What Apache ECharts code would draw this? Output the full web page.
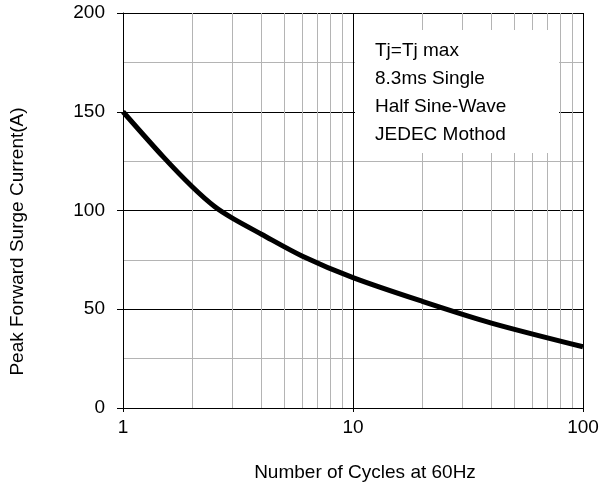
<!DOCTYPE html>
<html>
<head>
<meta charset="utf-8">
<script src="https://cdn.jsdelivr.net/npm/echarts@6/dist/echarts.min.js"></script>
<style>
html,body{margin:0;padding:0;background:#fff;}
#chart{width:611px;height:492px;}
</style>
</head>
<body>
<div id="chart"></div>
<script>
// Data
const cycles = [1, 1.5, 2, 2.5, 3, 4, 6, 10, 20, 40, 100];
const surgeCurrent = [150, 127, 112, 102, 96, 88, 77, 66, 54, 43, 31];
const minorCycles = [2, 3, 4, 5, 6, 7, 8, 9, 20, 30, 40, 50, 60, 70, 80, 90];
const noteLines = ['Tj=Tj max', '8.3ms Single', 'Half Sine-Wave', 'JEDEC Mothod'];
const xName = 'Number of Cycles at 60Hz';
const yName = 'Peak Forward Surge Current(A)';

const FONT = "'Liberation Sans', Arial, sans-serif";
const chart = echarts.init(document.getElementById('chart'));
chart.setOption({
  animation: false,
  backgroundColor: '#fff',
  grid: { left: 123, right: 28, top: 13, bottom: 84, containLabel: false },
  xAxis: {
    type: 'log', logBase: 10, min: 1, max: 100,
    name: xName, nameLocation: 'middle', nameGap: 55,
    nameTextStyle: { fontFamily: FONT, fontSize: 19, color: '#000', padding: [0, 0, 0, 24] },
    axisLine: { show: true, lineStyle: { color: '#000', width: 1 } },
    axisTick: { show: true, inside: false, length: 4, lineStyle: { color: '#000' } },
    axisLabel: { fontFamily: FONT, fontSize: 19, color: '#000', margin: 10 },
    splitLine: { show: true, lineStyle: { color: '#000', width: 1 } }
  },
  yAxis: {
    type: 'value', min: 0, max: 200, interval: 50,
    name: yName, nameLocation: 'middle', nameGap: 96, nameRotate: 90,
    nameTextStyle: { fontFamily: FONT, fontSize: 19, color: '#000', padding: [0, 62, 0, 0] },
    axisLine: { show: true, lineStyle: { color: '#000', width: 1 } },
    axisTick: { show: true, inside: false, length: 6, lineStyle: { color: '#000' } },
    axisLabel: { fontFamily: FONT, fontSize: 19, color: '#000', margin: 18 },
    splitLine: { show: true, lineStyle: { color: '#000', width: 1 } },
    minorTick: { show: false, splitNumber: 2 },
    minorSplitLine: { show: true, lineStyle: { color: '#b4b4b4', width: 1 } }
  },
  series: [{
    type: 'line',
    data: cycles.map((c, i) => [c, surgeCurrent[i]]),
    smooth: 0.3,
    showSymbol: false,
    lineStyle: { color: '#000', width: 5 },
    z: 5,
    markLine: {
      silent: true,
      symbol: ['none', 'none'],
      label: { show: false },
      lineStyle: { color: '#b4b4b4', width: 1, type: 'solid' },
      emphasis: { disabled: true },
      data: minorCycles.map(v => ({ xAxis: v }))
    }
  }],
  graphic: [
    { type: 'rect', z: 50, shape: { x: 355, y: 30, width: 204, height: 123 }, style: { fill: '#fff' } },
    { type: 'text', z: 51, left: 375, top: 37,
      style: { text: noteLines.join('\n'), font: '19px ' + FONT, fill: '#000', lineHeight: 28 } }
  ]
});
</script>
</body>
</html>
